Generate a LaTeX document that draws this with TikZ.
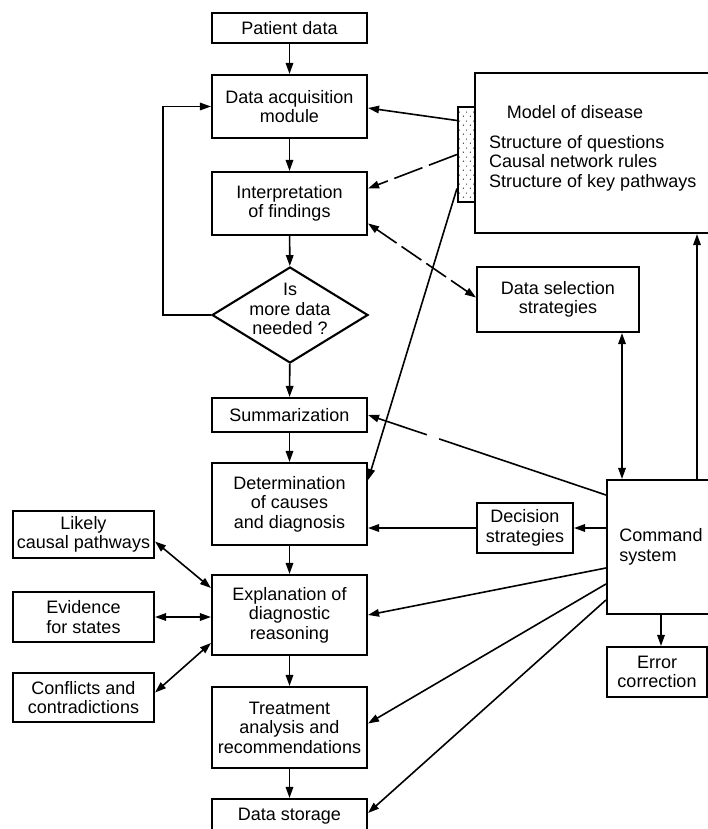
\documentclass[tikz,border=0pt]{standalone}
\usepackage{fontspec}
\setmainfont{Liberation Sans}
\usetikzlibrary{shapes.geometric,arrows.meta,patterns.meta}

\tikzdeclarepattern{
  name=stipple,
  type=uncolored,
  bottom left={(0pt,0pt)},
  top right={(7pt,9pt)},
  tile size={(7pt,9pt)},
  code={
    \pgfpathcircle{\pgfpoint{1.5pt}{2pt}}{0.7pt}
    \pgfpathcircle{\pgfpoint{5pt}{6.5pt}}{0.6pt}
    \pgfusepath{fill}
  }
}

\tikzset{
  box/.style={rectangle, draw=black, line width=2.1pt, inner sep=2pt, align=center},
  arr/.style={-{Triangle[length=11pt,width=7.5pt]}, line width=1.6pt},
  dbl/.style={{Triangle[length=11pt,width=7.5pt]}-{Triangle[length=11pt,width=7.5pt]}, line width=1.6pt},
  longdash/.style={dash pattern=on 30pt off 7pt}
}

\begin{document}
\begin{tikzpicture}[x=1pt, y=-1pt, font=\fontsize{18}{19.5}\selectfont]
\useasboundingbox (0,0) rectangle (708,829);

\node(patient) [box, minimum width=155pt, minimum height=30pt] at (289.5,28) {Patient data};
\node(acq) [box, minimum width=155pt, minimum height=63pt] at (289.5,106.5) {Data acquisition\\module};
\node(interp) [box, minimum width=155pt, minimum height=63pt] at (289.5,203.5) {Interpretation\\of findings};
\node(more) [diamond, draw=black, line width=2.1pt, minimum width=156pt, minimum height=96pt, inner sep=0pt] at (290,315) {};
\node(moretext) [align=center] at (290,309) {Is\\more data\\needed ?};
\node(summ) [box, minimum width=155pt, minimum height=34pt] at (289.5,415) {Summarization};
\node(determ) [box, minimum width=155pt, minimum height=82pt] at (289.5,504) {Determination\\of causes\\and diagnosis};
\node(expl) [box, minimum width=155pt, minimum height=80pt] at (289.5,615) {Explanation of\\diagnostic\\reasoning};
\node(treat) [box, minimum width=155pt, minimum height=81pt] at (289.5,727.5) {Treatment\\analysis and\\recommendations};
\node(store) [box, minimum width=155pt, minimum height=34pt] at (289.5,816) {Data storage};

\node(likely) [box, minimum width=141pt, minimum height=47pt] at (83.5,534.5) {Likely\\causal pathways};
\node(evid) [box, minimum width=141pt, minimum height=50pt] at (83.5,617) {Evidence\\for states};
\node(confl) [box, minimum width=141pt, minimum height=49pt] at (83.5,697.5) {Conflicts and\\contradictions};

\node(model) [box, minimum width=265pt, minimum height=160pt] at (607.5,153) {};
\node(modeltitle) at (575,112) {Model of disease};
\node(modellist) [anchor=west, align=left, inner sep=0pt] at (489,163) {Structure of questions\\Causal network rules\\Structure of key pathways};
\node(bar) [rectangle, draw=black, line width=2.1pt, pattern=stipple, pattern color=black, minimum width=17pt, minimum height=95pt, inner sep=0pt] at (466.5,154.5) {};

\node(datasel) [box, minimum width=162pt, minimum height=65pt] at (558,299.5) {Data selection\\strategies};
\node(decis) [box, minimum width=96pt, minimum height=50pt] at (525,528) {Decision\\strategies};
\node(cmd) [box, align=left, minimum width=108pt, minimum height=134pt] at (661,547) {Command\\system};
\node(error) [box, minimum width=100pt, minimum height=50pt] at (657,672) {Error\\correction};

\draw[arr] (patient) -- (acq);
\draw[arr] (acq) -- (interp);
\draw[arr] (interp) -- (more);
\draw[arr] (more) -- (summ);
\draw[arr] (summ) -- (determ);
\draw[arr] (determ) -- (expl);
\draw[arr] (expl) -- (treat);
\draw[arr] (treat) -- (store);

\coordinate(loop) at (163,315);
\draw[arr] (more.west) -- (loop) |- (acq.west);

\draw[arr] ([yshift=34pt]bar.west) -- ([yshift=-1.5pt]acq.east);
\draw[arr, longdash] (bar.west) -- ([yshift=15pt]interp.east);
\draw[arr] ([yshift=-34pt]bar.west) -- ([yshift=24pt]determ.east);
\draw[dbl, dash pattern=on 24pt off 6pt] ([yshift=-20pt]interp.east) -- ([yshift=2pt]datasel.west);

\draw[arr, dash pattern=on 176pt off 13pt on 200pt off 0pt] ([yshift=52pt]cmd.west) -- (summ.east);
\draw[arr] (decis.east -| cmd.west) -- (decis.east);
\draw[arr] (decis.west) -- (decis.west -| determ.east);
\draw[arr] ([yshift=-21pt]cmd.west) -- (expl.east);
\draw[arr] ([yshift=-37pt]cmd.west) -- ([yshift=4pt]treat.east);
\draw[arr] ([yshift=-53pt]cmd.west) -- ([yshift=3pt]store.east);
\draw[arr] (cmd.south) -- (cmd.south |- error.north);
\draw[dbl] ([xshift=64pt]datasel.south) -- ([xshift=64pt]datasel.south |- cmd.north);
\draw[arr] ([xshift=36pt]cmd.north) -- ([xshift=36pt]cmd.north |- model.south);

\draw[dbl] ([yshift=-7pt]likely.east) -- ([yshift=27pt]expl.west);
\draw[dbl] (evid.east) -- (evid.east -| expl.west);
\draw[dbl] ([yshift=5pt]confl.east) -- ([yshift=-28pt]expl.west);

\end{tikzpicture}
\end{document}
